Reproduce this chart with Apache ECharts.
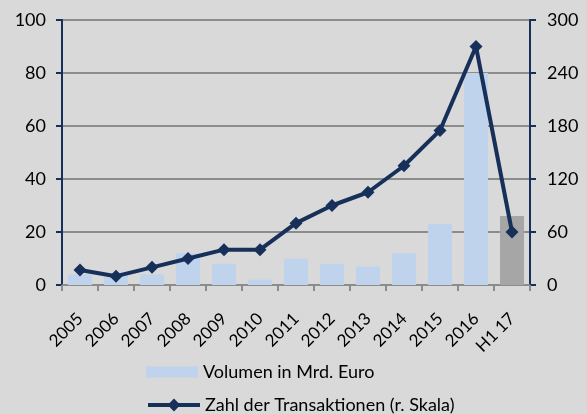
<!DOCTYPE html>
<html>
<head>
<meta charset="utf-8">
<script src="https://cdn.jsdelivr.net/npm/echarts@6/dist/echarts.min.js"></script>
<style>
  html, body { margin: 0; padding: 0; background: #d9d9d9; }
  #chart { width: 587px; height: 414px; }
</style>
</head>
<body>
<div id="chart"></div>
<script>
  // Kategorien und Werte
  var years = ['2005', '2006', '2007', '2008', '2009', '2010', '2011', '2012', '2013', '2014', '2015', '2016', 'H1 17'];
  var volumen = [4, 3.5, 4, 12, 8, 2, 10, 8, 7, 12, 23, 80, 26];
  var transaktionen = [17, 10, 20, 30, 40, 40, 70, 90, 105, 135, 175, 270, 60];
  var leftTicks = [0, 100, 20];
  var rightTicks = [0, 300, 60];

  var font = 'Lato, "Open Sans", sans-serif';
  var navy = '#17305a';
  var legendText = { fontFamily: font, fontSize: 18, color: '#000' };

  var chart = echarts.init(document.getElementById('chart'));
  chart.setOption({
    backgroundColor: '#d9d9d9',
    animation: false,
    textStyle: { fontFamily: font },
    grid: { left: 62, right: 57, top: 20, bottom: 129, outerBoundsMode: 'none' },
    legend: [
      {
        left: 146, top: 363, padding: 0,
        itemWidth: 52, itemHeight: 11,
        textStyle: legendText,
        data: [{ name: 'Volumen in Mrd. Euro', icon: 'rect' }]
      },
      {
        left: 146, top: 396, padding: 0,
        itemWidth: 52, itemHeight: 16,
        textStyle: legendText,
        lineStyle: { width: 4 },
        data: [{ name: 'Zahl der Transaktionen (r. Skala)' }]
      }
    ],
    xAxis: {
      type: 'category',
      data: years,
      axisLine: { lineStyle: { color: '#8c8c8c', width: 2 } },
      axisTick: { show: true, length: 6, lineStyle: { color: '#8c8c8c', width: 2 } },
      axisLabel: { rotate: 45, fontSize: 17, color: '#000', fontFamily: font, margin: 31 }
    },
    yAxis: [
      {
        type: 'value',
        min: leftTicks[0], max: leftTicks[1], interval: leftTicks[2],
        axisLine: { show: true, lineStyle: { color: navy, width: 2 } },
        axisTick: { show: true, length: 6, lineStyle: { color: navy, width: 2 } },
        axisLabel: { fontSize: 18, color: '#000', fontFamily: font, margin: 16 },
        splitLine: { lineStyle: { color: '#8c8c8c', width: 2 } }
      },
      {
        type: 'value',
        position: 'right',
        min: rightTicks[0], max: rightTicks[1], interval: rightTicks[2],
        axisLine: { show: true, lineStyle: { color: navy, width: 2 } },
        axisTick: { show: true, length: 6, lineStyle: { color: navy, width: 2 } },
        axisLabel: { fontSize: 18, color: '#000', fontFamily: font, margin: 17 },
        splitLine: { show: false }
      }
    ],
    series: [
      {
        name: 'Volumen in Mrd. Euro',
        type: 'bar',
        yAxisIndex: 0,
        barWidth: 24,
        itemStyle: { color: '#c0d3ec' },
        data: volumen.map(function (v, i) {
          return i === volumen.length - 1 ? { value: v, itemStyle: { color: '#a6a6a6' } } : v;
        })
      },
      {
        name: 'Zahl der Transaktionen (r. Skala)',
        type: 'line',
        yAxisIndex: 1,
        symbol: 'diamond',
        symbolSize: 13,
        lineStyle: { color: navy, width: 4 },
        itemStyle: { color: navy },
        data: transaktionen
      }
    ]
  });
</script>
</body>
</html>
